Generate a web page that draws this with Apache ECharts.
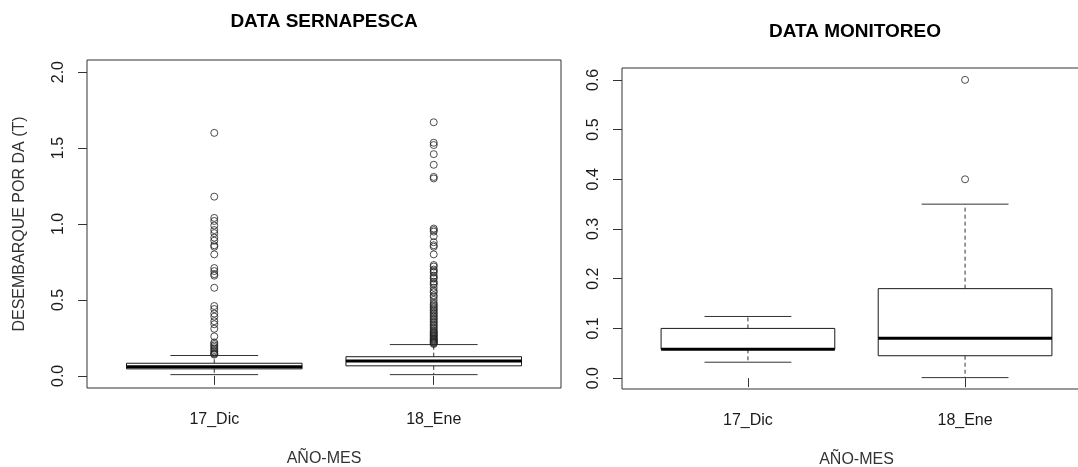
<!DOCTYPE html>
<html>
<head>
<meta charset="utf-8">
<title>Desembarque por DA</title>
<script src="https://cdn.jsdelivr.net/npm/echarts@6/dist/echarts.min.js"></script>
<style>
  html, body { margin: 0; padding: 0; background: #fff; }
  #chart { width: 1078px; height: 467px; }
</style>
</head>
<body>
<div id="chart"></div>
<script>
// Categories shared by both panels
const categories = ['17_Dic', '18_Ene'];

// Five-number summaries per month: [lower whisker, Q1, median, Q3, upper whisker]
const sernapescaStats = [
  [0.008, 0.046, 0.060, 0.083, 0.134],
  [0.008, 0.066, 0.098, 0.126, 0.206]
];
const monitoreoStats = [
  [0.032, 0.058, 0.058, 0.100, 0.124],
  [0.001, 0.045, 0.080, 0.180, 0.350]
];

// Outlying landings (T) per month
const sernapescaOutliersDic = [
  1.60, 1.18, 1.04, 1.02, 0.99, 0.96, 0.94, 0.91, 0.89, 0.86, 0.85, 0.80,
  0.71, 0.69, 0.67, 0.66, 0.58, 0.46, 0.44, 0.41, 0.39, 0.36, 0.34, 0.31,
  0.26, 0.22, 0.21, 0.20, 0.19, 0.18, 0.17, 0.16, 0.15, 0.145, 0.14
];
const sernapescaOutliersEne = [
  1.67, 1.535, 1.52, 1.46, 1.39, 1.31, 1.30,
  0.97, 0.96, 0.95, 0.92, 0.88, 0.86, 0.85, 0.80,
  0.73, 0.72, 0.70, 0.69, 0.68, 0.66, 0.65, 0.64, 0.62, 0.61, 0.60,
  0.58, 0.56, 0.55, 0.53, 0.52, 0.50, 0.48, 0.47, 0.46, 0.45, 0.44,
  0.43, 0.42, 0.41, 0.40, 0.39, 0.38, 0.37, 0.36, 0.35, 0.34, 0.33,
  0.32, 0.31, 0.30, 0.29, 0.285, 0.28, 0.27, 0.265, 0.26, 0.25, 0.245,
  0.24, 0.235, 0.23, 0.225, 0.22, 0.215, 0.21
];
const monitoreoOutliersDic = [];
const monitoreoOutliersEne = [0.60, 0.40];

// Tick values
const sernapescaTicks = [0, 0.5, 1.0, 1.5, 2.0];
const monitoreoTicks = [0, 0.1, 0.2, 0.3, 0.4, 0.5, 0.6];
const categoryPositions = [1, 2];

const FONT = '"Liberation Sans", Arial, sans-serif';
const INK = '#1a1a1a';

function boxRows(stats) {
  return stats.map((s, i) => [categoryPositions[i]].concat(s));
}
function outlierRows(lists) {
  const rows = [];
  lists.forEach((list, i) => list.forEach(v => rows.push([categoryPositions[i], v])));
  return rows;
}

// Classic boxplot: solid box, thick median, dashed whiskers, half-width staples
function renderBox(params, api) {
  const pos = api.value(0);
  const lo = api.value(1), q1 = api.value(2), med = api.value(3), q3 = api.value(4), hi = api.value(5);
  const half = api.size([0.4, 0])[0];
  const cap = half / 2;
  const cx = api.coord([pos, 0])[0];
  const y = v => api.coord([pos, v])[1];
  const dashed = { stroke: '#333', lineWidth: 1, lineDash: [4, 3], fill: null };
  return {
    type: 'group',
    children: [
      { type: 'line', shape: { x1: cx, y1: y(q3), x2: cx, y2: y(hi) }, style: dashed },
      { type: 'line', shape: { x1: cx, y1: y(q1), x2: cx, y2: y(lo) }, style: dashed },
      { type: 'line', shape: { x1: cx - cap, y1: y(hi), x2: cx + cap, y2: y(hi) }, style: { stroke: '#333', lineWidth: 1 } },
      { type: 'line', shape: { x1: cx - cap, y1: y(lo), x2: cx + cap, y2: y(lo) }, style: { stroke: '#333', lineWidth: 1 } },
      { type: 'rect', shape: { x: cx - half, y: y(q3), width: 2 * half, height: y(q1) - y(q3) }, style: { stroke: INK, lineWidth: 1, fill: 'rgba(0,0,0,0)' } },
      { type: 'line', shape: { x1: cx - half, y1: y(med), x2: cx + half, y2: y(med) }, style: { stroke: '#000', lineWidth: 3 } }
    ]
  };
}

function xAxisFor(gridIndex) {
  return {
    gridIndex: gridIndex,
    type: 'value',
    min: 0.42,
    max: 2.58,
    axisLine: { show: false },
    splitLine: { show: false },
    axisTick: { show: true, customValues: categoryPositions, length: 9, lineStyle: { color: '#333' } },
    axisLabel: {
      customValues: categoryPositions,
      formatter: v => categories[Math.round(v) - 1] || '',
      fontFamily: FONT, fontSize: 16, color: INK, margin: 24
    },
    name: 'AÑO-MES',
    nameLocation: 'middle',
    nameGap: 63,
    nameTextStyle: { fontFamily: FONT, fontSize: 16, color: '#333' }
  };
}

function yAxisFor(gridIndex, min, max, ticks, name) {
  return {
    gridIndex: gridIndex,
    type: 'value',
    min: min,
    max: max,
    axisLine: { show: false },
    splitLine: { show: false },
    axisTick: { show: true, customValues: ticks, length: 9, lineStyle: { color: '#333' } },
    axisLabel: {
      customValues: ticks,
      formatter: v => v.toFixed(1),
      rotate: 90,
      fontFamily: FONT, fontSize: 16, color: INK, margin: 20
    },
    name: name,
    nameLocation: 'middle',
    nameGap: 59,
    nameRotate: 90,
    nameTextStyle: { fontFamily: FONT, fontSize: 16, color: '#333' }
  };
}

const outlierStyle = {
  color: 'rgba(0,0,0,0)',
  borderColor: '#222',
  borderWidth: 1
};

const chart = echarts.init(document.getElementById('chart'), null, { renderer: 'canvas' });
chart.setOption({
  animation: false,
  backgroundColor: '#fff',
  title: [
    {
      text: 'DATA SERNAPESCA', left: 319, top: 7, textAlign: 'center',
      textStyle: { fontFamily: FONT, fontSize: 19, fontWeight: 'bold', color: '#000' }
    },
    {
      text: 'DATA MONITOREO', left: 850, top: 17, textAlign: 'center',
      textStyle: { fontFamily: FONT, fontSize: 19, fontWeight: 'bold', color: '#000' }
    }
  ],
  grid: [
    { left: 87, top: 60, width: 474, height: 328, show: true, borderColor: '#333', borderWidth: 1, backgroundColor: 'rgba(0,0,0,0)', containLabel: false, outerBoundsMode: 'none' },
    { left: 622, top: 68, width: 469, height: 321, show: true, borderColor: '#333', borderWidth: 1, backgroundColor: 'rgba(0,0,0,0)', containLabel: false, outerBoundsMode: 'none' }
  ],
  xAxis: [xAxisFor(0), xAxisFor(1)],
  yAxis: [
    yAxisFor(0, -0.08, 2.08, sernapescaTicks, 'DESEMBARQUE POR DA (T)'),
    yAxisFor(1, -0.0219, 0.6239, monitoreoTicks, '')
  ],
  series: [
    {
      type: 'custom', xAxisIndex: 0, yAxisIndex: 0,
      renderItem: renderBox,
      encode: { x: 0, y: [1, 2, 3, 4, 5] },
      data: boxRows(sernapescaStats)
    },
    {
      type: 'scatter', xAxisIndex: 0, yAxisIndex: 0,
      symbol: 'circle', symbolSize: 7,
      itemStyle: outlierStyle,
      data: outlierRows([sernapescaOutliersDic, sernapescaOutliersEne])
    },
    {
      type: 'custom', xAxisIndex: 1, yAxisIndex: 1,
      renderItem: renderBox,
      encode: { x: 0, y: [1, 2, 3, 4, 5] },
      data: boxRows(monitoreoStats)
    },
    {
      type: 'scatter', xAxisIndex: 1, yAxisIndex: 1,
      symbol: 'circle', symbolSize: 7,
      itemStyle: outlierStyle,
      data: outlierRows([monitoreoOutliersDic, monitoreoOutliersEne])
    }
  ]
});
</script>
</body>
</html>
